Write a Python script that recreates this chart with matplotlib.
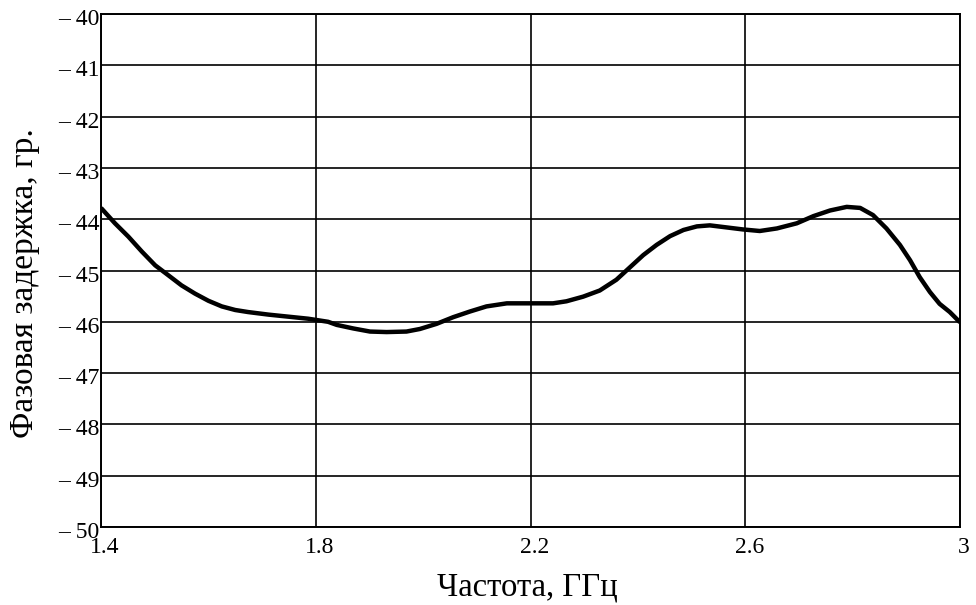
import matplotlib
matplotlib.use("Agg")
import matplotlib.pyplot as plt
import matplotlib.transforms as mtransforms

plt.rcParams['font.family'] = ['Liberation Serif', 'DejaVu Serif']

# Phase delay versus frequency
freq_ghz = [1.400, 1.426, 1.451, 1.476, 1.501, 1.525, 1.550, 1.575, 1.600,
            1.625, 1.650, 1.674, 1.712, 1.749, 1.786, 1.823, 1.839, 1.870,
            1.901, 1.932, 1.969, 1.994, 2.025, 2.056, 2.087, 2.118, 2.156,
            2.193, 2.242, 2.267, 2.298, 2.329, 2.360, 2.385, 2.410, 2.435,
            2.460, 2.485, 2.510, 2.534, 2.565, 2.596, 2.627, 2.659, 2.696,
            2.727, 2.758, 2.789, 2.814, 2.838, 2.863, 2.888, 2.907, 2.925,
            2.944, 2.962, 2.981, 3.000]
phase_deg = [-43.78, -44.08, -44.34, -44.63, -44.90, -45.09, -45.29, -45.45,
             -45.59, -45.70, -45.77, -45.81, -45.86, -45.90, -45.94, -46.00,
             -46.06, -46.13, -46.19, -46.20, -46.19, -46.14, -46.04, -45.91,
             -45.80, -45.70, -45.64, -45.64, -45.64, -45.60, -45.51, -45.39,
             -45.18, -44.94, -44.70, -44.50, -44.33, -44.21, -44.14, -44.12,
             -44.16, -44.20, -44.23, -44.18, -44.08, -43.94, -43.83, -43.76,
             -43.78, -43.92, -44.18, -44.50, -44.80, -45.13, -45.42, -45.65,
             -45.81, -46.01]

x_ticks = [1.4, 1.8, 2.2, 2.6, 3.0]
x_tick_labels = ["1.4", "1.8", "2.2", "2.6", "3"]
y_ticks = list(range(-50, -39))
y_tick_labels = ["\u2013 %d" % abs(v) for v in y_ticks]

fig = plt.figure(figsize=(9.76, 6.05), dpi=100)
ax = fig.add_axes([101 / 976, 78 / 605, 859 / 976, 513 / 605])

ax.plot(freq_ghz, phase_deg, color="black", lw=3.2, solid_joinstyle="round",
        solid_capstyle="butt", zorder=3)

ax.set_xlim(1.4, 3.0)
ax.set_ylim(-50, -40)
ax.set_xticks(x_ticks)
ax.set_xticklabels(x_tick_labels)
ax.set_yticks(y_ticks)
ax.set_yticklabels(y_tick_labels)
ax.tick_params(axis="both", length=0, labelsize=17)
ax.tick_params(axis="x", pad=7)
ax.tick_params(axis="y", pad=1)

# nudge tick labels slightly (x labels right, y labels down)
dx = mtransforms.ScaledTranslation(4 / 100, 0, fig.dpi_scale_trans)
dy = mtransforms.ScaledTranslation(0, -3 / 100, fig.dpi_scale_trans)
for lab in ax.get_xticklabels():
    lab.set_transform(lab.get_transform() + dx)
for lab in ax.get_yticklabels():
    lab.set_transform(lab.get_transform() + dy)

ax.grid(True, color="black", lw=1.2)
for s in ax.spines.values():
    s.set_linewidth(1.4)
    s.set_color("black")

ax.set_xlabel("Частота, ГГц", fontsize=23.5)
ax.xaxis.set_label_coords(0.496, -0.117)
ax.xaxis.label.set_va("center")
ax.set_ylabel("Фазовая задержка, гр.", fontsize=24)
ax.yaxis.set_label_coords(-0.089, 0.476)
ax.yaxis.label.set_va("center")

fig.savefig("out.png", dpi=100)
